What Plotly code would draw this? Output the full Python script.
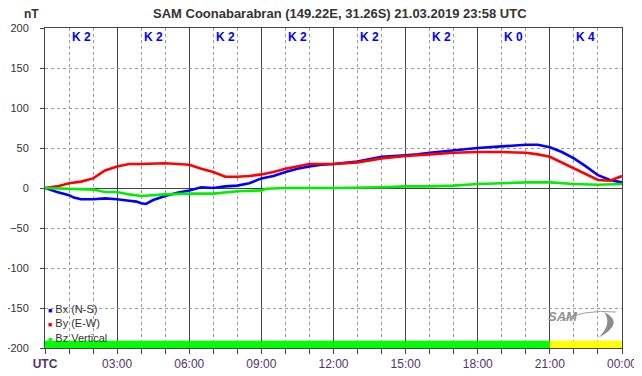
import plotly.graph_objects as go

# ---- data ----
bx_hours = [0, 0.5, 1, 1.2, 1.5, 2, 2.5, 3, 3.5, 3.8, 4, 4.2, 4.5, 5, 5.5, 6, 6.5, 7, 7.5, 8, 8.5, 9, 9.5, 10, 10.5, 11, 11.5, 12, 13, 13.5, 14, 15, 15.5, 16, 17, 18, 19, 20, 20.5, 21, 21.5, 22, 22.5, 23, 23.5, 24]
bx_values = [0, -5, -9, -12, -14, -14, -13, -14, -16, -17, -19, -20, -15, -10, -6, -3, 1, 0, 2, 3, 6, 12, 15, 20, 24, 27, 29, 30, 33, 36, 39, 41, 42, 44, 47, 50, 52, 54, 54, 51, 45, 37, 27, 16, 10, 7]

by_hours = [0, 0.5, 1, 1.5, 2, 2.5, 3, 3.5, 4, 5, 6, 6.5, 7, 7.5, 8, 8.5, 9, 9.5, 10, 10.5, 11, 12, 13, 14, 15, 16, 17, 18, 19, 20, 20.5, 21, 21.5, 22, 22.5, 23, 23.5, 23.8, 24]
by_values = [0, 2, 6, 8, 12, 22, 27, 30, 30, 31, 29, 24, 20, 14, 14, 15, 17, 20, 24, 27, 30, 30, 32, 37, 40, 42, 44, 45, 45, 44, 42, 39, 32, 25, 18, 10, 9, 13, 15]

bz_hours = [0, 1, 2, 2.5, 3, 3.5, 4, 5, 6, 7, 8, 9, 9.2, 10, 12, 14, 15, 16, 17, 18, 19, 20, 21, 21.5, 22, 23, 24]
bz_values = [0, -1, -2, -5, -5, -8, -10, -8, -7, -7, -4, -3, -1, 0, 0, 1, 2, 2, 3, 5, 6, 7, 7, 6, 5, 4, 5]

k_values = [2, 2, 2, 2, 2, 2, 0, 4]
x_tick_vals = [0, 3, 6, 9, 12, 15, 18, 21, 24]
x_tick_text = ["<b>UTC</b>", "03:00", "06:00", "09:00", "12:00", "15:00", "18:00", "21:00", "00:00"]
y_tick_vals = [200, 150, 100, 50, 0, -50, -100, -150, -200]

series_names = ["Bx (N-S)", "By (E-W)", "Bz Vertical"]
series_colors = ["#0000ff", "#ff0000", "#00ee00"]
legend_colors = ["#0000ff", "#ff0000", "#00ff00"]

FONT = "Arial, Liberation Sans, sans-serif"

# page body has an 8px margin; figure is sized so the plot lands where the reference has it
BODY = 8
PL, PT, PR, PB = 45, 28, 622, 348  # plot area in page pixels
PW, PH = PR - PL, PB - PT


def px(x):
    return (x - PL) / PW


def py(y):
    return 1 - (y - PT) / PH


fig = go.Figure()
for xs, ys, name, col in zip([bx_hours, by_hours, bz_hours], [bx_values, by_values, bz_values], series_names, series_colors):
    fig.add_trace(go.Scatter(x=xs, y=ys, mode="lines", name=name,
                             line=dict(color=col, width=2.6), showlegend=False))

shapes = []
# K-index colour bar at bottom
for i, k in enumerate(k_values):
    col = "#00ff00" if k < 4 else "#ffff00"
    shapes.append(dict(type="rect", xref="x", yref="y", x0=i * 3, x1=i * 3 + 3, y0=-200, y1=-191,
                       fillcolor=col, line=dict(width=0), layer="above"))

# SAM logo swoosh
shapes.append(dict(type="path", xref="paper", yref="paper",
                   path=f"M {px(604)} {py(312)} Q {px(626)} {py(323)} {px(598)} {py(338)} "
                        f"Q {px(613)} {py(324)} {px(604)} {py(312)} Z",
                   fillcolor="#8c8c8c", line=dict(width=0)))
shapes.append(dict(type="path", xref="paper", yref="paper",
                   path=f"M {px(560)} {py(321)} Q {px(584)} {py(309)} {px(616)} {py(312)}",
                   line=dict(color="#a0a0a0", width=1)))

annotations = []
for i, k in enumerate(k_values):
    annotations.append(dict(x=i * 3 + 1.5, y=189, xref="x", yref="y", text=f"<b>K {k}</b>",
                            showarrow=False, font=dict(family=FONT, size=12, color="#0000ff")))

annotations.append(dict(x=px(340), y=py(13), xref="paper", yref="paper", yanchor="middle",
                        text="<b>SAM Coonabarabran (149.22E, 31.26S) 21.03.2019 23:58 UTC</b>",
                        showarrow=False, font=dict(family=FONT, size=13, color="#333333")))
annotations.append(dict(x=px(22), y=py(14), xref="paper", yref="paper", yanchor="middle",
                        text="<b>nT</b>", showarrow=False, font=dict(family=FONT, size=12, color="#333333")))

# legend block
legend_text = "<br>".join(
    f"<span style='font-size:7px;color:{c}'>■</span> {n}" for n, c in zip(series_names, legend_colors))
annotations.append(dict(x=px(46), y=py(323), xref="paper", yref="paper", xanchor="left", yanchor="middle",
                        align="left", text=legend_text, showarrow=False,
                        font=dict(family=FONT, size=11, color="#333333")))

annotations.append(dict(x=px(580), y=py(326), xref="paper", yref="paper", text="<b><i>SAM</i></b>",
                        showarrow=False, font=dict(family=FONT, size=13, color="#909090")))

fig.update_layout(
    width=642 - BODY, height=376 - BODY,
    margin=dict(l=PL - BODY, r=642 - PR, t=PT - BODY, b=376 - PB),
    paper_bgcolor="white", plot_bgcolor="white",
    font=dict(family=FONT, size=12, color="#333333"),
    showlegend=False,
    shapes=shapes, annotations=annotations,
    xaxis=dict(range=[0, 24], tickvals=x_tick_vals, ticktext=x_tick_text, automargin=False,
               showgrid=True, gridcolor="#444444", gridwidth=1,
               ticks="outside", ticklen=5, tickcolor="#444444",
               minor=dict(dtick=1, showgrid=True, gridcolor="#999999", griddash="3px,3px",
                          ticks="outside", ticklen=5, tickcolor="#444444"),
               showline=True, linecolor="#444444", mirror=True, zeroline=False,
               tickfont=dict(family=FONT, size=12, color="#553366")),
    yaxis=dict(range=[-200, 200], tickvals=y_tick_vals, automargin=False,
               showgrid=True, gridcolor="#999999", griddash="3px,3px",
               ticks="outside", ticklen=4, tickcolor="#444444",
               zeroline=True, zerolinecolor="#444444", zerolinewidth=1,
               showline=True, linecolor="#444444", mirror=True,
               ticklabelstandoff=9,
               tickfont=dict(family=FONT, size=11, color="#333333")),
)

fig.write_html("out.html")
